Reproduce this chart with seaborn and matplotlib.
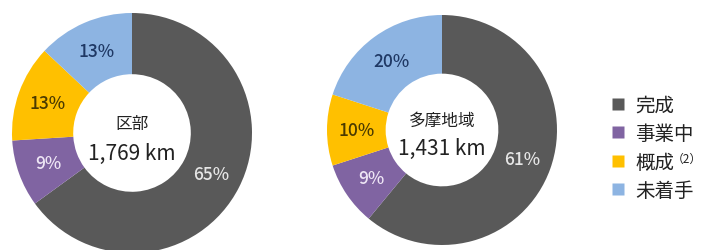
import matplotlib
matplotlib.use("Agg")
import matplotlib.pyplot as plt
import seaborn as sns
from matplotlib.lines import Line2D

sns.set_theme(style="white")
plt.rcParams['font.family'] = ['Noto Sans CJK JP', 'DejaVu Sans']

categories = ["完成", "事業中", "概成", "未着手"]
ward_values = [65, 9, 13, 13]
tama_values = [61, 9, 10, 20]
titles = ["区部", "多摩地域"]
lengths = ["1,769 km", "1,431 km"]
colors = ["#595959", "#8064A2", "#FFC000", "#8DB4E2"]
label_colors = ["#E6E6E6", "#EEE6F5", "#4A3A00", "#1F3864"]

W, H = 704, 251
fig = plt.figure(figsize=(W / 100, H / 100), dpi=100)

def add_donut(values, title, length, cx, cy, r, ty, ly):
    ax = fig.add_axes([(cx - r) / W, (H - cy - r) / H, 2 * r / W, 2 * r / H])
    wedges, texts, autotexts = ax.pie(
        values, colors=colors, startangle=90, counterclock=False,
        wedgeprops=dict(width=0.51, edgecolor="none"),
        autopct="%d%%", pctdistance=0.745, radius=1.0,
        textprops=dict(fontsize=12.5, fontweight="medium"))
    for t, c in zip(autotexts, label_colors):
        t.set_color(c)
    ax.text(0, ty, title, ha="center", va="center", fontsize=12, color="#222222")
    ax.text(0, ly, length, ha="center", va="center", fontsize=15, color="#222222")
    ax.set_xlim(-1, 1)
    ax.set_ylim(-1, 1)
    ax.set_aspect("equal")
    ax.axis("off")

add_donut(ward_values, titles[0], lengths[0], 132, 134, 120, 0.08, -0.17)
add_donut(tama_values, titles[1], lengths[1], 442, 131, 115, 0.08, -0.16)

handles = [Line2D([], [], marker="s", linestyle="none", markersize=9,
                  markerfacecolor=c, markeredgecolor="none") for c in colors]
leg = fig.legend(handles, categories, loc="upper left",
                 bbox_to_anchor=(603 / W, 1 - 88 / H), frameon=False,
                 fontsize=14, labelspacing=0.38, handlelength=0.7,
                 handletextpad=0.55, borderaxespad=0)
for t in leg.get_texts():
    t.set_color("#222222")

fig.canvas.draw()
renderer = fig.canvas.get_renderer()
bb = leg.get_texts()[2].get_window_extent(renderer)
fig.text(702 / W, bb.y1 / H, "（2）", fontsize=8.5,
         ha="right", va="top", color="#222222")

fig.savefig("out.png", dpi=100)
